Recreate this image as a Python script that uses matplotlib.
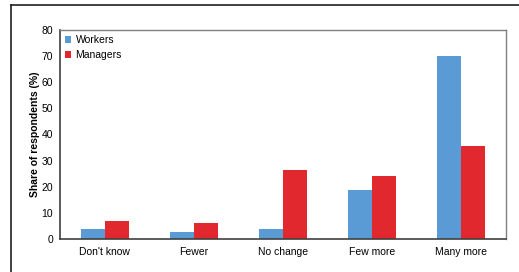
import numpy as np
import matplotlib
matplotlib.use("Agg")
import matplotlib.pyplot as plt
from matplotlib.lines import Line2D

categories = ["Don't know", "Fewer", "No change", "Few more", "Many more"]
workers = [3.7, 2.7, 3.8, 18.8, 70.1]
managers = [6.9, 6.2, 26.3, 24.3, 35.6]
yticks = [0, 10, 20, 30, 40, 50, 60, 70, 80]

plt.rcParams['font.family'] = ['Liberation Sans', 'DejaVu Sans']

fig = plt.figure(figsize=(5.19, 2.72), dpi=100)
ax = fig.add_axes([60 / 519, 1 - 239 / 272, 446 / 519, 209 / 272])

x = np.arange(len(categories))
w = 0.27
ax.bar(x - w / 2, workers, w, color='#5b9bd5', label='Workers')
ax.bar(x + w / 2, managers, w, color='#e0282e', label='Managers')

ax.set_xlim(-0.5, len(categories) - 0.5)
ax.set_ylim(0, 80)
ax.set_yticks(yticks)
ax.set_xticks(x)
ax.set_xticklabels(categories, fontsize=7.5)
ax.tick_params(axis='y', labelsize=7.5, length=0, pad=5)
ax.tick_params(axis='x', length=0, pad=6)
ax.set_ylabel('Share of respondents (%)', fontsize=7.5, fontweight='bold', labelpad=1)

for s in ['left', 'bottom']:
    ax.spines[s].set_color('#404040')
    ax.spines[s].set_linewidth(1.2)
for s in ['top', 'right']:
    ax.spines[s].set_color('#808080')
    ax.spines[s].set_linewidth(1.0)

ax.legend(loc='upper left', frameon=False, fontsize=7.5, handlelength=0.6,
          handleheight=0.6, handletextpad=0.4, labelspacing=0.5,
          borderaxespad=0.1, bbox_to_anchor=(0.0, 1.0))

# outer frame
fig.add_artist(Line2D([11 / 519, 1.0], [1 - 5 / 272, 1 - 5 / 272], color='#202020', lw=1.2))
fig.add_artist(Line2D([11 / 519, 11 / 519], [0, 1 - 5 / 272], color='#202020', lw=1.2))

fig.savefig('out.png', dpi=100)
